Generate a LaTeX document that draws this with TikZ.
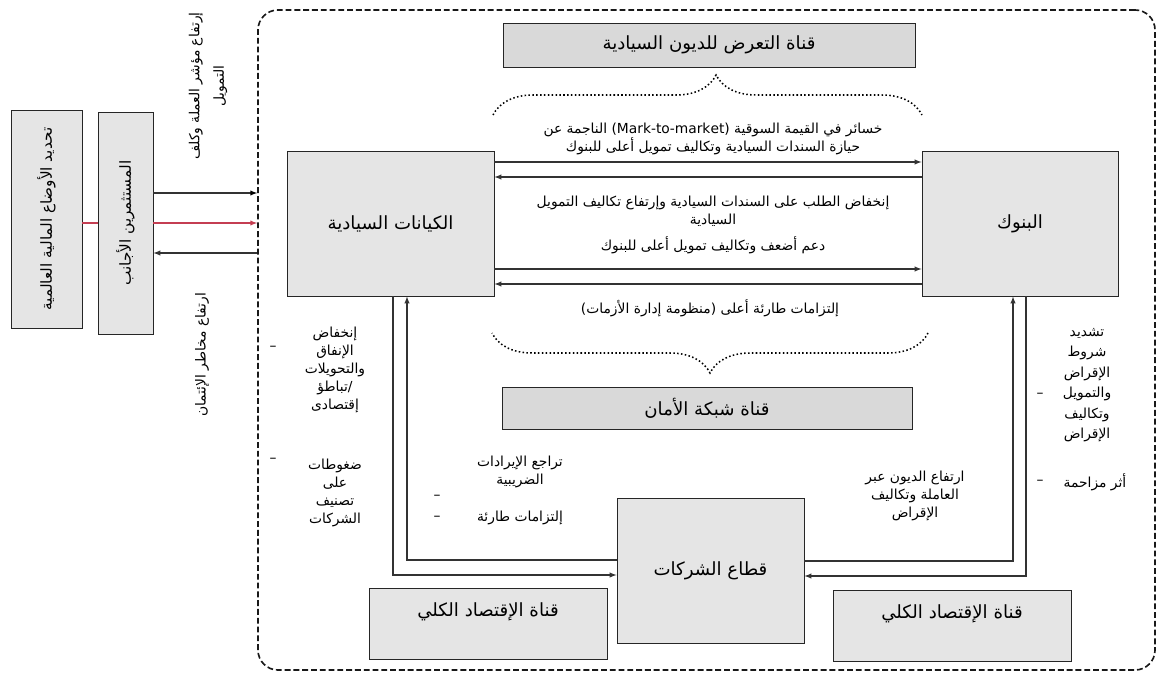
\documentclass[tikz,border=0pt]{standalone}
\usepackage{fontspec}
\usetikzlibrary{arrows,decorations.pathreplacing}
\newfontfamily\arabicfont[Script=Arabic]{DejaVu Sans}
\TeXXeTstate=1
\newcommand{\artxt}[1]{{\arabicfont\beginR #1\endR}}
\newcommand{\bulletdash}{{\arabicfont –}}
\definecolor{linkred}{RGB}{196,62,82}
\tikzset{
  box/.style={draw=black!85, line width=0.8pt, fill=gray!20, font=\fontsize{15.5}{18}\selectfont},
  chan/.style={box, fill=gray!30},
  link/.style={draw=black!80, line width=1pt},
  note/.style={align=center, font=\fontsize{11.8}{15.5}\selectfont, inner sep=1pt},
  dotbrace/.style={dotted, line width=1.3pt, decorate, decoration={brace, amplitude=1.2cm, aspect=#1}}
}

\begin{document}
\begin{tikzpicture}[x=0.03cm, y=-0.03cm]
  \useasboundingbox (0,0) rectangle (1158,675);
  \node[draw=black!90, dash pattern=on 5pt off 2.5pt, line width=1.4pt, rounded corners=0.6cm,
        minimum width=26.91cm, minimum height=19.8cm] (frame) at (706.5,340) {};

  \node[box, font=\fontsize{13}{15}\selectfont, minimum width=2.13cm, minimum height=6.54cm] (glob) at (46.5,219) {\rotatebox{90}{\artxt{تحديد الأوضاع المالية العالمية}}};
  \node[box, font=\fontsize{13}{15}\selectfont, minimum width=1.65cm, minimum height=6.66cm] (inv) at (125.5,223) {\rotatebox{90}{\artxt{المستثمرين الأجانب}}};
  \node[box, minimum width=6.21cm, minimum height=4.35cm] (sov) at (390.5,223.5) {\artxt{الكيانات السيادية}};
  \node[box, minimum width=5.88cm, minimum height=4.35cm] (banks) at (1020,223.5) {\artxt{البنوك}};
  \node[box, minimum width=5.61cm, minimum height=4.35cm] (corp) at (710.5,570.5) {\artxt{قطاع الشركات}};
  \node[chan, minimum width=12.36cm, minimum height=1.32cm] (expo) at (709,45) {\artxt{قناة التعرض للديون السيادية}};
  \node[chan, minimum width=12.3cm, minimum height=1.26cm] (safety) at (707,408) {\artxt{قناة شبكة الأمان}};
  \node[box, text depth=0.85cm, minimum width=7.14cm, minimum height=2.13cm] (macroL) at (488,623.5) {\artxt{قناة الإقتصاد الكلي}};
  \node[box, text depth=0.85cm, minimum width=7.14cm, minimum height=2.13cm] (macroR) at (952,625.5) {\artxt{قناة الإقتصاد الكلي}};

  \draw[link] (inv.east |- 0,193) edge[arrows=-latex] (frame.west |- 0,193);
  \draw[link, draw=linkred] (glob.east |- 0,223) -- (inv.west |- 0,223);
  \draw[link, draw=linkred, arrows=-latex] (inv.east |- 0,223) -- (frame.west |- 0,223);
  \draw[link, arrows=-latex] (frame.west |- 0,253) -- (inv.east |- 0,253);
  \node[note, rotate=90, font=\fontsize{11.8}{21}\selectfont] (fxnote) at (208,86) {\artxt{إرتفاع مؤشر العملة وكلف}\\\artxt{التمويل}};
  \node[note, rotate=90] (risknote) at (202,355) {\artxt{ارتفاع مخاطر الإئتمان}};

  \draw[link, arrows=-latex] (sov.east |- 0,162) -- (banks.west |- 0,162);
  \draw[link, arrows=-latex] (banks.west |- 0,177) -- (sov.east |- 0,177);
  \draw[link, arrows=-latex] (sov.east |- 0,269) -- (banks.west |- 0,269);
  \draw[link, arrows=-latex] (banks.west |- 0,284) -- (sov.east |- 0,284);

  \draw[link, arrows=-latex] (sov.south -| 393,0) |- (corp.west |- 0,575);
  \draw[link, arrows=-latex] (corp.west |- 0,560) -| (sov.south -| 407,0);
  \draw[link, arrows=-latex] (banks.south -| 1026,0) |- (corp.east |- 0,576);
  \draw[link, arrows=-latex] (corp.east |- 0,561) -| (banks.south -| 1013,0);

  \draw[dotbrace=0.52] (493,115) -- (922,115);
  \draw[dotbrace=0.5] (928,333) -- (492,333);

  \node[note] (lossnote) at (713,139) {\artxt{خسائر في القيمة السوقية \beginL(Mark-to-market)\endL{} الناجمة عن}\\\artxt{حيازة السندات السيادية وتكاليف تمويل أعلى للبنوك}};
  \node[note] (demandnote) at (713,211) {\artxt{إنخفاض الطلب على السندات السيادية وإرتفاع تكاليف التمويل}\\\artxt{السيادية}};
  \node[note] (supportnote) at (713,245) {\artxt{دعم أضعف وتكاليف تمويل أعلى للبنوك}};
  \node[note] (contnote) at (710,308) {\artxt{إلتزامات طارئة أعلى (منظومة إدارة الأزمات)}};

  \node[note] (spendnote) at (335,370) {\artxt{إنخفاض}\\\artxt{الإنفاق}\\\artxt{والتحويلات}\\\artxt{/تباطؤ}\\\artxt{إقتصادى}};
  \node[note] (spenddash) at (273,348) {\bulletdash};
  \node[note] (ratenote) at (335,493) {\artxt{ضغوطات}\\\artxt{على}\\\artxt{تصنيف}\\\artxt{الشركات}};
  \node[note] (ratedash) at (273,460) {\bulletdash};

  \node[note, font=\fontsize{11.8}{17.5}\selectfont] (lendnote) at (1087,385) {\artxt{تشديد}\\\artxt{شروط}\\\artxt{الإقراض}\\\artxt{والتمويل}\\\artxt{وتكاليف}\\\artxt{الإقراض}};
  \node[note] (lenddash) at (1040,395) {\bulletdash};
  \node[note] (crowdnote) at (1095,482) {\artxt{أثر مزاحمة}};
  \node[note] (crowddash) at (1040,482) {\bulletdash};

  \node[note] (taxnote) at (520,472) {\artxt{تراجع الإيرادات}\\\artxt{الضريبية}};
  \node[note] (taxdash) at (437,497) {\bulletdash};
  \node[note] (liabnote) at (520,518) {\artxt{إلتزامات طارئة}};
  \node[note] (liabdash) at (437,518) {\bulletdash};
  \node[note] (debtnote) at (915,496) {\artxt{ارتفاع الديون عبر}\\\artxt{العاملة وتكاليف}\\\artxt{الإقراض}};
\end{tikzpicture}
\end{document}
